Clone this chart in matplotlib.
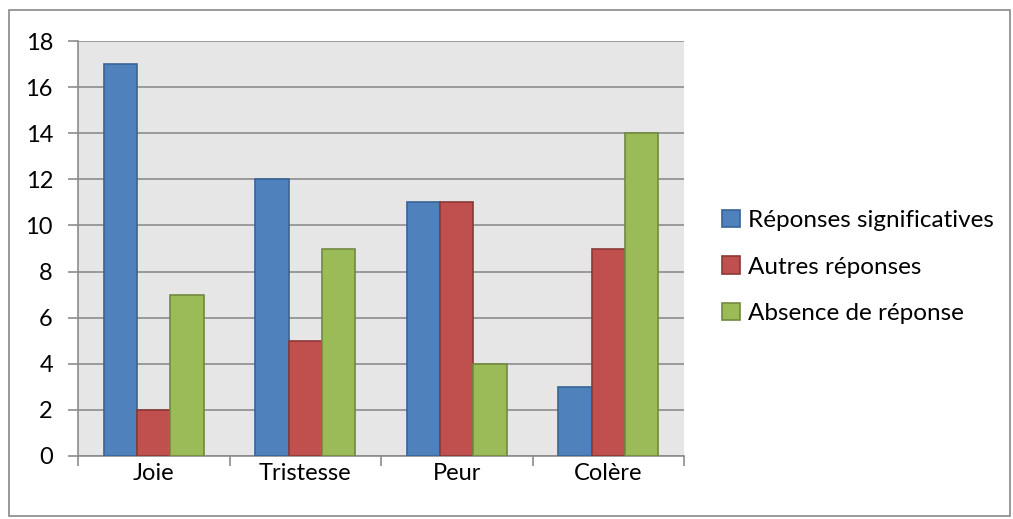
import numpy as np
import matplotlib.pyplot as plt
from matplotlib.patches import Rectangle

categories = ["Joie", "Tristesse", "Peur", "Colère"]
significatives = [17, 12, 11, 3]
autres = [2, 5, 11, 9]
absence = [7, 9, 4, 14]
series_names = ["Réponses significatives", "Autres réponses", "Absence de réponse"]

plt.rcParams['font.family'] = ['Lato', 'DejaVu Sans']

fig = plt.figure(figsize=(10.13, 5.19), dpi=100)
fig.patches.append(Rectangle((9 / 1013, 3 / 519), 1001 / 1013, 506 / 519,
                             transform=fig.transFigure, fill=False,
                             edgecolor='#888888', linewidth=1.2))

ax = fig.add_axes([78 / 1013, 1 - 456 / 519, 606 / 1013, 415 / 519])
ax.set_facecolor('#E6E6E6')

x = np.arange(len(categories))
w = 0.22
fills = ['#4F81BD', '#C0504D', '#9BBB59']
edges = ['#3A6496', '#8C3836', '#71893F']
for i, vals in enumerate([significatives, autres, absence]):
    ax.bar(x + (i - 1) * w, vals, w, color=fills[i], edgecolor=edges[i],
           linewidth=1.2, label=series_names[i], zorder=3)

ax.set_xlim(-0.5, 3.5)
ax.set_ylim(0, 18)
ax.set_yticks(range(0, 19, 2))
ax.yaxis.grid(True, color='#8C8C8C', linewidth=1.2, zorder=0)
ax.set_axisbelow(True)

ax.set_xticks(x)
ax.set_xticklabels(categories)
ax.set_xticks(np.arange(-0.5, 4, 1), minor=True)
ax.tick_params(axis='x', which='major', length=0, pad=5, labelsize=17)
ax.tick_params(axis='x', which='minor', length=7, width=1.2, color='#8C8C8C', direction='out')
ax.tick_params(axis='y', length=7, width=1.2, color='#8C8C8C', direction='out', pad=11, labelsize=17)

for side in ['top', 'right']:
    ax.spines[side].set_visible(False)
for side in ['left', 'bottom']:
    ax.spines[side].set_color('#8C8C8C')
    ax.spines[side].set_linewidth(1.2)

leg = fig.legend(loc='center left', bbox_to_anchor=(722 / 1013, 1 - 267 / 519),
                 frameon=False, fontsize=17.5, handlelength=0.72, handleheight=0.72,
                 handletextpad=0.35, labelspacing=1.05, borderaxespad=0,
                 borderpad=0)

fig.savefig("out.png", dpi=100)
